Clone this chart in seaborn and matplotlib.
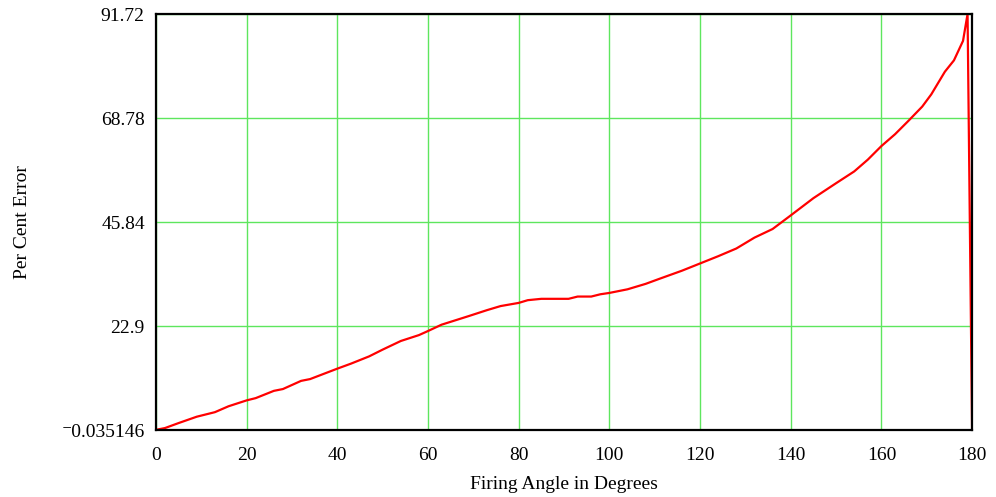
import pandas as pd
import seaborn as sns
import matplotlib
matplotlib.use("Agg")
import matplotlib.pyplot as plt

# firing angle (degrees) and per cent error
angle = [0, 2, 5, 9, 13, 16, 20, 22, 26, 28, 32, 34, 40, 43, 47, 50, 54, 58, 60, 63,
         69, 73, 76, 80, 82, 85, 91, 93, 96, 98, 100, 104, 108, 111, 116, 120, 124,
         128, 132, 136, 140, 145, 150, 154, 157, 160, 163, 166, 169, 171, 174, 176,
         178, 179, 180]
error = [0.0, 0.4, 1.5, 2.9, 3.9, 5.2, 6.5, 7.0, 8.6, 9.0, 10.8, 11.2, 13.5, 14.6, 16.2,
         17.7, 19.6, 20.9, 21.8, 23.2, 25.1, 26.4, 27.3, 28.0, 28.6, 28.9, 28.9, 29.4,
         29.4, 29.9, 30.2, 31.0, 32.2, 33.3, 35.1, 36.7, 38.3, 40.0, 42.4, 44.3, 47.3,
         51.1, 54.4, 57.0, 59.6, 62.6, 65.2, 68.2, 71.3, 74.0, 79.0, 81.5, 85.8, 91.72,
         0.0]

x_ticks = [0, 20, 40, 60, 80, 100, 120, 140, 160, 180]
y_ticks = [-0.035146, 22.9, 45.84, 68.78, 91.72]
y_labels = ["\u207b0.035146", "22.9", "45.84", "68.78", "91.72"]

df = pd.DataFrame({"angle": angle, "error": error})

sns.set_style("white")
plt.rcParams['font.family'] = ['Liberation Serif', 'DejaVu Serif']
plt.rcParams['text.color'] = 'black'
plt.rcParams['axes.labelcolor'] = 'black'
plt.rcParams['xtick.color'] = 'black'
plt.rcParams['ytick.color'] = 'black'

fig = plt.figure(figsize=(9.96, 4.97), dpi=100)
ax = fig.add_axes([0.1566, 0.1348, 0.8194, 0.837])

sns.lineplot(data=df, x="angle", y="error", ax=ax, color="#ff0000",
             linewidth=1.6, sort=False, zorder=3)

ax.set_xlim(0, 180)
ax.set_ylim(-0.035146, 91.72)
ax.set_xticks(x_ticks)
ax.set_xticklabels([str(t) for t in x_ticks], fontsize=14)
ax.set_yticks(y_ticks)
ax.set_yticklabels(y_labels, fontsize=14)
ax.tick_params(axis="x", length=0, pad=12)
ax.grid(True, color="#5ee65e", linewidth=1.0)
ax.tick_params(axis="y", length=0, pad=8)
for s in ax.spines.values():
    s.set_color("black")
    s.set_linewidth(1.6)
    s.set_zorder(4)

ax.set_xlabel("Firing Angle in Degrees", fontsize=14, labelpad=9)
ax.set_ylabel("Per Cent Error", fontsize=14, labelpad=22)

fig.savefig("out.png", dpi=100)
